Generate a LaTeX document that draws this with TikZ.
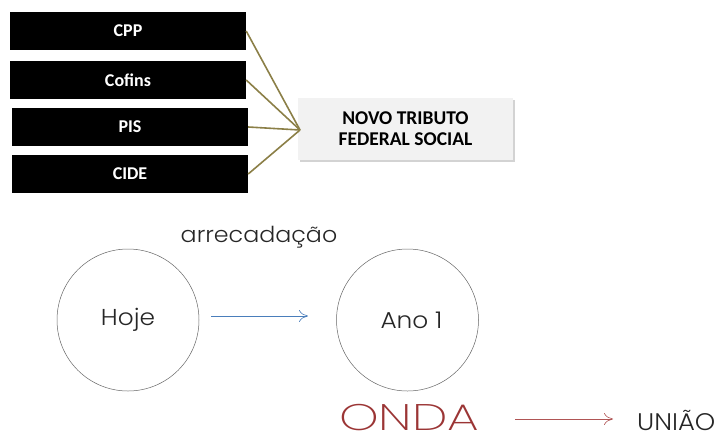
\documentclass[tikz,border=0pt]{standalone}
\usepackage{fontspec}
\setmainfont{Carlito}
\newfontfamily\geo{Poppins}[UprightFont=* Light, FakeStretch=1.08]
\newfontfamily\geothin{Poppins}[UprightFont=* ExtraLight, FakeStretch=1.36]
\usetikzlibrary{shadows,arrows.meta}
\definecolor{olive}{HTML}{8B7F47}
\definecolor{arrblue}{HTML}{4A7EBB}
\definecolor{ondared}{HTML}{9B3535}
\definecolor{arrred}{HTML}{B05555}
\definecolor{boxgray}{HTML}{F2F2F2}
\tikzset{
  taxbox/.style={fill=black, text=white, minimum width=236pt, minimum height=38pt, inner sep=0pt, font=\bfseries\fontsize{18}{20}\selectfont},
  bigbox/.style={fill=boxgray, minimum width=215pt, minimum height=62pt, inner sep=0pt, align=center, font=\bfseries\fontsize{19.5}{21}\selectfont, drop shadow={shadow xshift=2pt, shadow yshift=-2pt, opacity=0.35}},
  circ/.style={circle, draw=gray!80!black, line width=0.5pt, minimum size=142pt, inner sep=0pt, font=\geo\fontsize{23}{28}\selectfont, text=black!85},
  link/.style={draw=olive, line width=1.6pt},
  conn/.style={-{To[length=9pt,width=12pt,line width=0.6pt]}, line width=0.8pt},
  bottomtext/.style={anchor=base west, inner sep=0pt, text depth=0pt}
}
\begin{document}
\begin{tikzpicture}[x=1pt,y=-1pt]
\useasboundingbox (0,0) rectangle (723,437);
\node[taxbox] (cpp) at (128,31) {CPP};
\node[taxbox] (cofins) at (128,80) {Cofins};
\node[taxbox] (pis) at (130,127) {PIS};
\node[taxbox] (cide) at (130,174) {CIDE};
\node[bigbox] (novo) at (405.5,129) {NOVO TRIBUTO\\FEDERAL SOCIAL};
\coordinate (hub) at (300,130);
\draw[link] (cpp.east) -- (hub);
\draw[link] (cofins.east) -- (hub);
\draw[link] (pis.east) -- (hub);
\draw[link] (cide.east) -- (hub);
\node[font=\geo\fontsize{22}{26}\selectfont, text=black!85] (arr) at (259,237) {arrecadação};
\node[circ] (hoje) at (128,320) {Hoje};
\node[circ] (ano) at (407.5,320) {\hspace{8pt}Ano 1};
\coordinate (a1) at (211,316);
\coordinate (a2) at (308,316);
\draw[conn, draw=arrblue] (a1) -- (a2);
\node[bottomtext, font=\geothin\fontsize{37}{40}\selectfont, text=ondared] (onda) at (339,430) {ONDA};
\node[bottomtext, font=\geo\fontsize{24}{28}\selectfont, text=black!85] (uniao) at (637,430) {UNIÃO};
\coordinate (b1) at (515,419);
\coordinate (b2) at (613,419);
\draw[conn, draw=arrred] (b1) -- (b2);
\end{tikzpicture}
\end{document}
